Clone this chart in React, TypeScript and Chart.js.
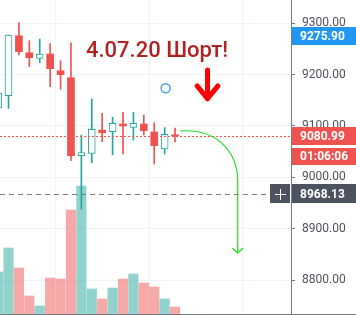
import { useEffect, useRef } from 'react';
import { Chart, registerables } from 'chart.js';

Chart.register(...registerables);

// ---- data ----
const candleIndex = [0, 1, 2, 3, 4, 5, 6, 7, 8, 9, 10, 11, 12, 13, 14, 15, 16, 17];
const opens = [9135, 9159.0, 9275.8, 9242.7, 9231.8, 9240.2, 9207.7, 9194.0, 9042.1, 9046.8, 9092.2, 9088.9, 9103.9, 9097.4, 9103.9, 9088.3, 9055.2, 9081.5];
const highs = [9175, 9277.2, 9301.2, 9266.1, 9269.4, 9260.3, 9227.2, 9262.2, 9082.4, 9152.6, 9124.7, 9116.9, 9126.7, 9126.7, 9121.4, 9106.4, 9096.7, 9096.1];
const lows = [9125, 9134.4, 9238.3, 9215.5, 9223.3, 9176.5, 9171.4, 9032.4, 8938.3, 9028.5, 9069.4, 9043.5, 9045.4, 9072.7, 9082.4, 9025.9, 9045.4, 9068.8];
const closes = [9164, 9277.2, 9244.7, 9233.0, 9240.2, 9211.6, 9199.9, 9042.1, 9048.0, 9093.5, 9086.9, 9105.2, 9100.0, 9105.2, 9090.8, 9061.6, 9083.8, 9080.99];
const volumes = [630, 990, 690, 270, 120, 540, 525, 1560, 1920, 375, 225, 390, 525, 600, 465, 405, 225, 105];

const priceTicks = [8800, 8900, 9000, 9100, 9200, 9300];
const timeGridIndex = [10, 19];
const viewIndexRange = [0.183, 28.14];
const viewPriceRange = [8733.8, 9345.4];
const volumeAxisMax = 4710;

const highPrice = 9275.9;
const lastPrice = 9080.99;
const crossPrice = 8968.13;
const countdown = '01:06:06';
const titleText = '4.07.20 Шорт!';
const titleAnchor = { i: 8.44, p: 9233.8 };
const arrowAnchor = { i: 20.12, top: 9209, tip: 9153, wing: 9178, half: 1.0 };
const circleAnchor = { i: 16.1, p: 9173.4 };
const curvePath = {
  start: { i: 17.47, p: 9090.2 },
  c1: { i: 20.84, p: 9096 },
  c2: { i: 22.95, p: 9053.2 },
  mid: { i: 23.02, p: 8994.8 },
  end: { i: 23.02, p: 8852.6 },
  wingP: 8862.3,
  wingHalf: 0.53,
};

const GREEN = '#26a69a';
const RED = '#ef5350';
const GREEN_VOL = 'rgba(38,166,154,0.5)';
const RED_VOL = 'rgba(239,83,80,0.5)';

const isUp = candleIndex.map((i) => closes[i] >= opens[i]);

const overlayPlugin = {
  id: 'overlay',
  afterDatasetsDraw(chart: any) {
    const { ctx, chartArea, scales } = chart;
    const xs = scales.x;
    const ys = scales.y;
    ctx.save();
    // last price dotted line
    const yl = Math.round(ys.getPixelForValue(lastPrice)) + 0.5;
    ctx.strokeStyle = RED;
    ctx.lineWidth = 1;
    ctx.setLineDash([2, 2]);
    ctx.beginPath();
    ctx.moveTo(chartArea.left, yl);
    ctx.lineTo(chartArea.right, yl);
    ctx.stroke();
    // crosshair dashed line
    const yc = Math.round(ys.getPixelForValue(crossPrice)) + 0.5;
    ctx.strokeStyle = '#787b86';
    ctx.setLineDash([5, 4]);
    ctx.beginPath();
    ctx.moveTo(chartArea.left, yc);
    ctx.lineTo(chartArea.right - 20, yc);
    ctx.stroke();
    ctx.setLineDash([]);

    // title
    ctx.fillStyle = '#b22222';
    ctx.font = '500 22px Roboto';
    ctx.textBaseline = 'alphabetic';
    ctx.textAlign = 'left';
    ctx.fillText(titleText, xs.getPixelForValue(titleAnchor.i), ys.getPixelForValue(titleAnchor.p));

    // red arrow
    const ax = xs.getPixelForValue(arrowAnchor.i);
    ctx.strokeStyle = '#ff0000';
    ctx.lineWidth = 5;
    ctx.lineCap = 'round';
    ctx.lineJoin = 'round';
    ctx.beginPath();
    ctx.moveTo(ax, ys.getPixelForValue(arrowAnchor.top));
    ctx.lineTo(ax, ys.getPixelForValue(arrowAnchor.tip));
    ctx.moveTo(xs.getPixelForValue(arrowAnchor.i - arrowAnchor.half), ys.getPixelForValue(arrowAnchor.wing));
    ctx.lineTo(ax, ys.getPixelForValue(arrowAnchor.tip));
    ctx.lineTo(xs.getPixelForValue(arrowAnchor.i + arrowAnchor.half), ys.getPixelForValue(arrowAnchor.wing));
    ctx.stroke();

    // blue circle
    ctx.strokeStyle = '#4a9fe8';
    ctx.lineWidth = 1.5;
    ctx.beginPath();
    ctx.arc(xs.getPixelForValue(circleAnchor.i), ys.getPixelForValue(circleAnchor.p), 4.5, 0, Math.PI * 2);
    ctx.stroke();

    // green curved arrow
    const P = (pt: { i: number; p: number }) => [xs.getPixelForValue(pt.i), ys.getPixelForValue(pt.p)];
    const s = P(curvePath.start);
    const c1 = P(curvePath.c1);
    const c2 = P(curvePath.c2);
    const m = P(curvePath.mid);
    const e = P(curvePath.end);
    ctx.strokeStyle = '#22e022';
    ctx.lineWidth = 1.2;
    ctx.lineCap = 'butt';
    ctx.beginPath();
    ctx.moveTo(s[0], s[1]);
    ctx.bezierCurveTo(c1[0], c1[1], c2[0], c2[1], m[0], m[1]);
    ctx.lineTo(e[0], e[1]);
    ctx.stroke();
    ctx.beginPath();
    const wy = ys.getPixelForValue(curvePath.wingP);
    ctx.moveTo(xs.getPixelForValue(curvePath.end.i - curvePath.wingHalf), wy);
    ctx.lineTo(e[0], e[1]);
    ctx.lineTo(xs.getPixelForValue(curvePath.end.i + curvePath.wingHalf), wy);
    ctx.stroke();
    ctx.restore();
  },
  afterDraw(chart: any) {
    const { ctx, chartArea, scales, width } = chart;
    const ys = scales.y;
    ctx.save();
    // bottom border line
    ctx.strokeStyle = '#787b86';
    ctx.lineWidth = 1;
    ctx.beginPath();
    ctx.moveTo(0, chartArea.bottom + 0.5);
    ctx.lineTo(width, chartArea.bottom + 0.5);
    ctx.stroke();

    const R = chartArea.right;
    const labelW = width - R;
    ctx.font = 'bold 12px Roboto';
    ctx.textBaseline = 'middle';
    ctx.textAlign = 'left';
    const label = (price: number, text: string, bg: string, h = 18) => {
      const yy = ys.getPixelForValue(price);
      ctx.fillStyle = bg;
      ctx.fillRect(R + 1, Math.round(yy - h / 2), labelW, h);
      ctx.fillStyle = '#ffffff';
      ctx.fillText(text, R + 9, Math.round(yy) + 0.5);
      return Math.round(yy - h / 2) + h;
    };
    label(highPrice, highPrice.toFixed(2), '#2196f3');
    const bottom = label(lastPrice, lastPrice.toFixed(2), RED);
    // countdown box
    ctx.fillStyle = RED;
    ctx.fillRect(R + 1, bottom + 3, labelW, 17);
    ctx.fillStyle = '#ffffff';
    ctx.fillText(countdown, R + 9, bottom + 3 + 9);
    // crosshair label
    const yc = ys.getPixelForValue(crossPrice);
    label(crossPrice, crossPrice.toFixed(2), '#4c525e', 19);
    ctx.fillStyle = '#4c525e';
    ctx.fillRect(R - 21, Math.round(yc - 9.5), 20, 19);
    ctx.strokeStyle = '#ffffff';
    ctx.lineWidth = 1;
    ctx.beginPath();
    ctx.moveTo(R - 16, Math.round(yc) + 0.5);
    ctx.lineTo(R - 5, Math.round(yc) + 0.5);
    ctx.moveTo(R - 10.5, Math.round(yc) - 5);
    ctx.lineTo(R - 10.5, Math.round(yc) + 6);
    ctx.stroke();
    ctx.restore();
  },
};

export default function App() {
  const canvasRef = useRef<HTMLCanvasElement | null>(null);

  useEffect(() => {
    const canvas = canvasRef.current;
    if (!canvas) return;
    const chart = new Chart(canvas, {
      type: 'bar',
      data: {
        datasets: [
          {
            label: 'bodies',
            data: candleIndex.map((i) => ({ x: i, y: [Math.min(opens[i], closes[i]), Math.max(opens[i], closes[i])] })),
            backgroundColor: candleIndex.map((i) => (isUp[i] ? '#ffffff' : RED)),
            borderColor: candleIndex.map((i) => (isUp[i] ? GREEN : RED)),
            borderWidth: candleIndex.map((i) => (isUp[i] ? 1 : 0)),
            borderSkipped: false,
            barThickness: 7,
            minBarLength: 1,
            grouped: false,
            order: 1,
            yAxisID: 'y',
          } as any,
          {
            label: 'wicks',
            data: candleIndex.map((i) => ({ x: i, y: [lows[i], highs[i]] })),
            backgroundColor: candleIndex.map((i) => (isUp[i] ? GREEN : RED)),
            borderWidth: 0,
            barThickness: 1,
            grouped: false,
            order: 2,
            yAxisID: 'y',
          } as any,
          {
            label: 'volume',
            data: candleIndex.map((i) => ({ x: i, y: volumes[i] })),
            backgroundColor: candleIndex.map((i) => (isUp[i] ? GREEN_VOL : RED_VOL)),
            borderWidth: 0,
            barThickness: 9.5,
            grouped: false,
            order: 3,
            yAxisID: 'yv',
          } as any,
        ],
      },
      options: {
        responsive: false,
        animation: false,
        events: [],
        layout: { padding: { left: 0, right: 0, top: 0, bottom: 1 } },
        plugins: { legend: { display: false }, tooltip: { enabled: false } },
        scales: {
          x: {
            type: 'linear',
            min: viewIndexRange[0],
            max: viewIndexRange[1],
            offset: false,
            grid: { color: '#f0f3fa', drawTicks: false },
            border: { display: false },
            ticks: { display: false },
            afterBuildTicks: (scale: any) => {
              scale.ticks = timeGridIndex.map((v) => ({ value: v }));
            },
            afterFit: (scale: any) => {
              scale.height = 0;
              scale.paddingLeft = 0;
              scale.paddingRight = 0;
            },
          },
          y: {
            type: 'linear',
            position: 'right',
            min: viewPriceRange[0],
            max: viewPriceRange[1],
            grid: { color: '#f0f3fa', tickColor: '#787b86', tickLength: 4 },
            border: { display: true, color: '#787b86' },
            ticks: {
              color: '#50535e',
              font: { family: 'Roboto', size: 12 },
              padding: 7,
              callback: (v: any) => Number(v).toFixed(2),
            },
            afterBuildTicks: (scale: any) => {
              scale.ticks = priceTicks.map((v) => ({ value: v }));
            },
            afterFit: (scale: any) => {
              scale.width = 65;
              scale.paddingTop = 0;
              scale.paddingBottom = 0;
            },
          },
          yv: {
            type: 'linear',
            display: false,
            min: 0,
            max: volumeAxisMax,
          },
        },
      },
      plugins: [overlayPlugin],
    } as any);
    return () => chart.destroy();
  }, []);

  return (
    <div style={{ position: 'fixed', left: 0, top: 0, width: 356, height: 315, background: '#ffffff' }}>
      <canvas ref={canvasRef} width={356} height={315} style={{ display: 'block' }} />
    </div>
  );
}
